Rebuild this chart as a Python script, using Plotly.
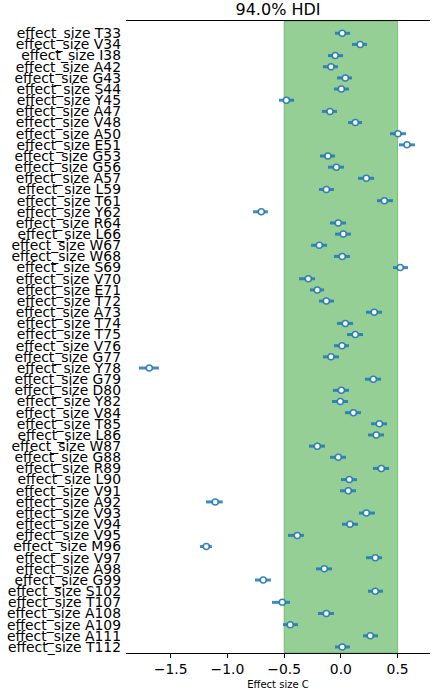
import plotly.graph_objects as go

labels = ["T33","V34","I38","A42","G43","S44","Y45","A47","V48","A50","E51","G53","G56","A57",
          "L59","T61","Y62","R64","L66","W67","W68","S69","V70","E71","T72","A73","T74","T75",
          "V76","G77","Y78","G79","D80","Y82","V84","T85","L86","W87","G88","R89","L90","V91",
          "A92","V93","V94","V95","M96","V97","A98","G99","S102","T107","A108","A109","A111","T112"]

mean = [0.012, 0.17, -0.05, -0.087, 0.039, 0.004, -0.48, -0.096, 0.127, 0.503, 0.582, -0.114,
        -0.04, 0.224, -0.128, 0.383, -0.701, -0.023, 0.021, -0.19, 0.012, 0.523, -0.287, -0.208,
        -0.128, 0.294, 0.039, 0.127, 0.01, -0.087, -1.688, 0.286, 0.004, -0.005, 0.11, 0.339,
        0.312, -0.208, -0.023, 0.356, 0.074, 0.065, -1.107, 0.224, 0.08, -0.384, -1.186, 0.303,
        -0.146, -0.684, 0.303, -0.516, -0.128, -0.446, 0.259, 0.012]

hdi_low = [-0.052, 0.098, -0.114, -0.158, -0.034, -0.061, -0.545, -0.167, 0.063, 0.433, 0.512,
           -0.184, -0.114, 0.151, -0.193, 0.318, -0.774, -0.096, -0.052, -0.263, -0.061, 0.459,
           -0.369, -0.272, -0.193, 0.221, -0.034, 0.054, -0.061, -0.158, -1.779, 0.212, -0.070,
           -0.078, 0.036, 0.265, 0.239, -0.281, -0.096, 0.283, 0.001, -0.008, -1.189, 0.159,
           0.010, -0.466, -1.241, 0.221, -0.219, -0.757, 0.239, -0.607, -0.202, -0.510, 0.195, -0.052]

hdi_high = [0.080, 0.230, 0.019, -0.026, 0.098, 0.071, -0.413, -0.034, 0.186, 0.574, 0.653,
            -0.052, 0.027, 0.292, -0.061, 0.459, -0.642, 0.045, 0.089, -0.122, 0.080, 0.591,
            -0.228, -0.149, -0.061, 0.362, 0.107, 0.195, 0.071, -0.017, -1.603, 0.353, 0.071,
            0.063, 0.177, 0.406, 0.380, -0.140, 0.045, 0.424, 0.142, 0.133, -1.041, 0.300,
            0.151, -0.325, -1.136, 0.362, -0.078, -0.616, 0.371, -0.448, -0.061, -0.378, 0.327, 0.080]

rope = [-0.5, 0.5]
xticks = [-1.5, -1.0, -0.5, 0.0, 0.5]
xticktext = ["\u22121.5", "\u22121.0", "\u22120.5", "0.0", "0.5"]

names = ["effect_size " + l for l in labels]
ypos = list(range(len(labels)))

lx, ly = [], []
for i, (lo, hi) in enumerate(zip(hdi_low, hdi_high)):
    lx += [lo, hi, None]
    ly += [i, i, None]

fig = go.Figure()
fig.add_shape(type="rect", xref="x", yref="paper", x0=rope[0], x1=rope[1], y0=0, y1=1,
              fillcolor="rgba(44,160,44,0.5)", line=dict(color="rgba(44,160,44,0.5)", width=1),
              layer="below")
fig.add_trace(go.Scatter(x=lx, y=ly, mode="lines",
                         line=dict(color="rgba(31,119,180,0.85)", width=3),
                         hoverinfo="skip", showlegend=False))
fig.add_trace(go.Scatter(x=mean, y=ypos, mode="markers",
                         marker=dict(symbol="circle", size=6, color="white",
                                     line=dict(color="rgba(31,119,180,0.9)", width=1.5)),
                         showlegend=False))

fig.update_layout(
    width=432, height=691,
    margin=dict(l=126, r=2, t=21, b=38),
    paper_bgcolor="white", plot_bgcolor="white",
    font=dict(family="DejaVu Sans", color="black"),
    title=dict(text="94.0% HDI", x=(126 + 430) / 2 / 432, xanchor="center",
               y=1 - 9 / 691, yanchor="middle", yref="container",
               font=dict(size=16, family="DejaVu Sans", color="black")),
    xaxis=dict(range=[-1.893, 0.785], tickvals=xticks, ticktext=xticktext,
               ticks="outside", ticklen=3.5, tickwidth=1, tickcolor="black",
               showline=True, linecolor="black", linewidth=1, mirror=True,
               showgrid=False, zeroline=False,
               tickfont=dict(size=13.9, family="DejaVu Sans", color="black"),
               title=dict(text="Effect size C", standoff=4,
                          font=dict(size=10, family="DejaVu Sans", color="black"))),
    yaxis=dict(range=[55.54, -1.10], tickvals=ypos, ticktext=names,
               ticks="", showline=False, showgrid=False, zeroline=False,
               ticklabelstandoff=4,
               tickfont=dict(size=13.9, family="DejaVu Sans", color="black")),
)

fig.write_html("out.html")
